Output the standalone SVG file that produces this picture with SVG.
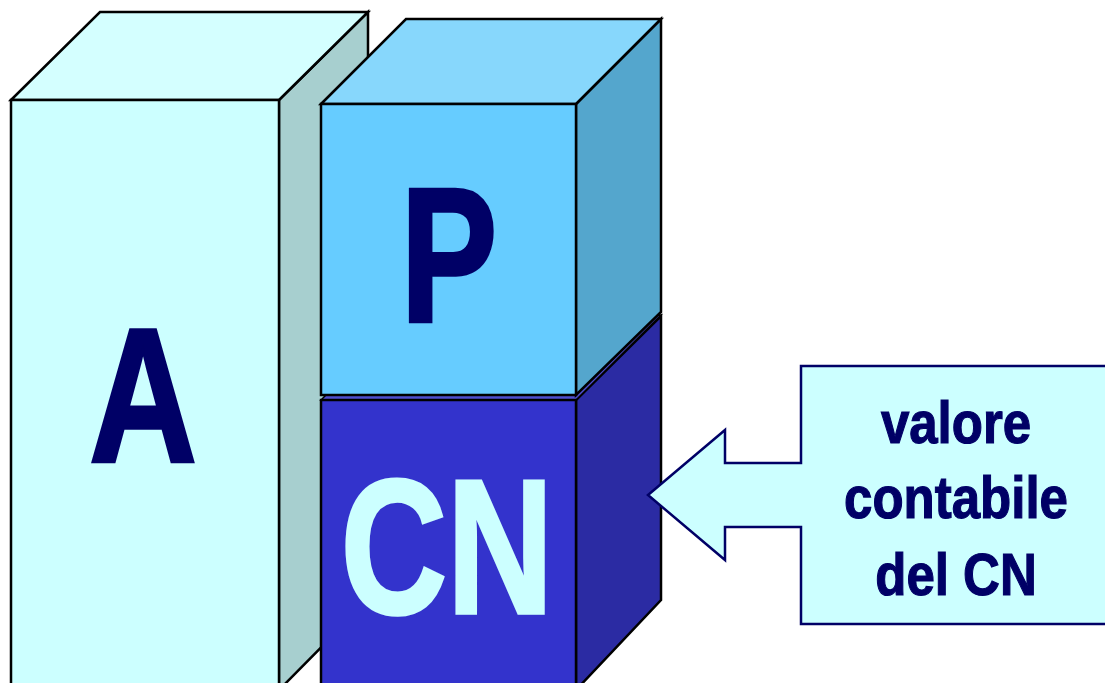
<svg xmlns="http://www.w3.org/2000/svg" width="1105" height="683" viewBox="0 0 1105 683">
  <style>
    .edge { stroke: #000000; stroke-width: 2.5; stroke-linejoin: miter; }
    .big { font-family: "Liberation Sans", Arial, sans-serif; font-weight: bold; font-size: 191px; text-anchor: middle; stroke-width: 3.5; stroke-linejoin: miter; }
    .note { font-family: "Liberation Sans", Arial, sans-serif; font-weight: bold; font-size: 60px; text-anchor: middle; fill: #000066; stroke: #000066; stroke-width: 1.2; }
    .callout { fill: #CCFFFF; stroke: #000066; stroke-width: 2.5; stroke-linejoin: miter; }
  </style>
  <rect width="1105" height="683" fill="#FFFFFF"/>

  <!-- Asset column -->
  <g id="node-A">
    <polygon class="edge" fill="#A7CFCF" points="279,100 368,12 368,600 279,690"/>
    <polygon class="edge" fill="#D4FFFF" points="11,100 100,12 368,12 279,100"/>
    <rect class="edge" fill="#CCFFFF" x="11" y="100" width="268" height="595"/>
    <text class="big" fill="#000066" stroke="#000066" transform="translate(143,462) scale(0.78,1)">A</text>
  </g>

  <!-- Net equity block (lower) -->
  <g id="node-CN">
    <polygon class="edge" fill="#2B2BA3" points="576,400 661,316 661,600 576,690"/>
    <polygon fill="#5050D0" stroke="#000000" stroke-width="1.5" points="321,400 406,315 661,315 576,400"/>
    <rect class="edge" fill="#3333CC" x="321" y="400" width="255" height="295"/>
    <text class="big" fill="#CCFFFF" stroke="#CCFFFF" transform="translate(447,613) scale(0.77,1)">CN</text>
  </g>

  <!-- Liabilities block (upper) -->
  <g id="node-P">
    <polygon class="edge" fill="#54A6CD" points="576,104 661,19 661,312 576,395"/>
    <polygon class="edge" fill="#87D7FC" points="321,104 406,19 661,19 576,104"/>
    <rect class="edge" fill="#66CCFF" x="321" y="104" width="255" height="291"/>
    <text class="big" fill="#000066" stroke="#000066" transform="translate(449,321) scale(0.76,1)">P</text>
  </g>

  <!-- Callout arrow pointing at the CN block -->
  <g id="connectors">
    <path class="callout" d="M1110,366 L801,366 L801,463 L725,463 L725,430 L648,495 L725,560 L725,527 L801,527 L801,624 L1110,624 Z"/>
  </g>

  <g id="node-label">
    <text class="note" transform="translate(956,443) scale(0.85,1)">valore</text>
    <text class="note" transform="translate(956,518) scale(0.85,1)">contabile</text>
    <text class="note" transform="translate(956,595) scale(0.85,1)">del CN</text>
  </g>
</svg>
